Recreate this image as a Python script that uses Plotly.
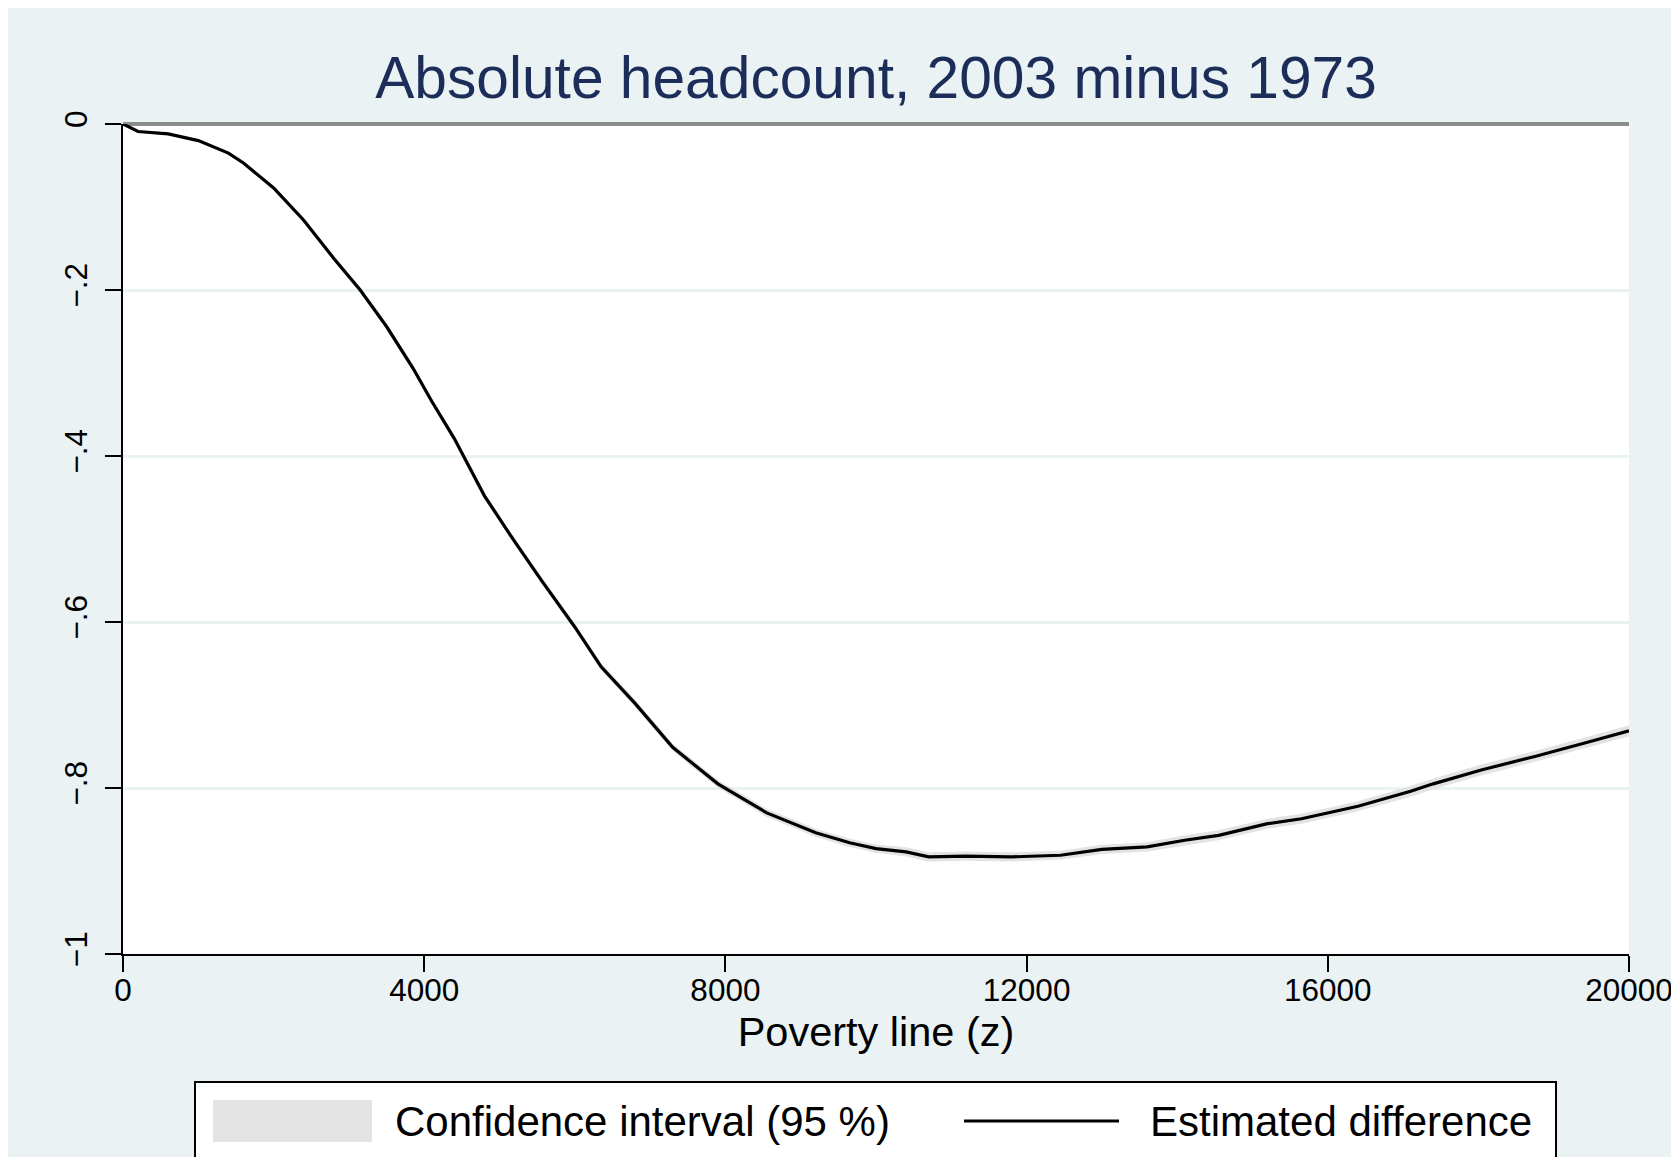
import plotly.graph_objects as go

# poverty line values (x) and estimated difference in headcount
poverty_line = [0, 200, 600, 1000, 1400, 1600, 2000, 2400, 2800, 3150, 3500, 3850, 4100, 4400,
                4800, 5200, 5550, 6000, 6350, 6800, 7300, 7900, 8550, 9200, 9650, 10000, 10400,
                10700, 11200, 11800, 12450, 13000, 13600, 14100, 14550, 15200, 15650, 16400,
                17100, 17400, 18050, 18750, 19400, 20000]
est_diff = [0, -0.009, -0.012, -0.020, -0.035, -0.047, -0.077, -0.116, -0.162, -0.200, -0.244,
            -0.294, -0.334, -0.379, -0.448, -0.503, -0.549, -0.606, -0.654, -0.698, -0.751,
            -0.795, -0.830, -0.854, -0.866, -0.873, -0.877, -0.883, -0.882, -0.883, -0.881,
            -0.874, -0.871, -0.863, -0.857, -0.843, -0.837, -0.822, -0.804, -0.795, -0.778,
            -0.762, -0.746, -0.731]
ci_low = [0, -0.010, -0.0135, -0.0215, -0.037, -0.049, -0.0795, -0.119, -0.165, -0.2035,
          -0.2475, -0.298, -0.338, -0.383, -0.452, -0.507, -0.553, -0.610, -0.6585, -0.7025,
          -0.7555, -0.7995, -0.835, -0.859, -0.871, -0.878, -0.8825, -0.8885, -0.8875, -0.8885,
          -0.8865, -0.8795, -0.8765, -0.869, -0.863, -0.849, -0.843, -0.828, -0.8105, -0.8015,
          -0.7845, -0.7685, -0.7525, -0.7375]
ci_high = [0, -0.008, -0.0105, -0.0185, -0.033, -0.045, -0.0745, -0.113, -0.159, -0.1965,
           -0.2405, -0.290, -0.330, -0.375, -0.444, -0.499, -0.545, -0.602, -0.6495, -0.6935,
           -0.7465, -0.7905, -0.825, -0.849, -0.861, -0.868, -0.8715, -0.8775, -0.8765, -0.8775,
           -0.8755, -0.8685, -0.8655, -0.857, -0.851, -0.837, -0.831, -0.816, -0.7975, -0.7885,
           -0.7715, -0.7555, -0.7395, -0.7245]

x_ticks = [0, 4000, 8000, 12000, 16000, 20000]
x_ticklabels = ["0", "4000", "8000", "12000", "16000", "20000"]
y_ticks = [0, -0.2, -0.4, -0.6, -0.8, -1]
y_ticklabels = ["0", "\u2212.2", "\u2212.4", "\u2212.6", "\u2212.8", "\u22121"]

FONT = "Liberation Sans, Arial, sans-serif"
BG = "#eaf2f3"
CI_GRAY = "#e3e3e3"

fig = go.Figure()

# confidence band
fig.add_trace(go.Scatter(x=poverty_line, y=ci_high, mode="lines", line=dict(width=0),
                         showlegend=False, hoverinfo="skip"))
fig.add_trace(go.Scatter(x=poverty_line, y=ci_low, mode="lines", line=dict(width=0),
                         fill="tonexty", fillcolor=CI_GRAY,
                         name="Confidence interval (95 %)", showlegend=False))
# estimate
fig.add_trace(go.Scatter(x=poverty_line, y=est_diff, mode="lines",
                         line=dict(color="black", width=3.2),
                         name="Estimated difference", showlegend=False))

# plot area spans x 115..1621 px, y 116..946 px of the figure
W, H = 1679, 1157
L, R, T, B = 115, 58, 116, 211
pw, ph = W - L - R, H - T - B


def px(v):
    return (v - L) / pw


def py(v):
    return (H - B - v) / ph


# hand-built legend (big swatches, box runs off the bottom edge as in the original)
shapes = [
    dict(type="rect", xref="paper", yref="paper", x0=px(187), x1=px(1548), y0=py(1250), y1=py(1074),
         fillcolor="white", line=dict(color="black", width=2)),
    dict(type="rect", xref="paper", yref="paper", x0=px(205), x1=px(364), y0=py(1134), y1=py(1092),
         fillcolor=CI_GRAY, line=dict(width=0)),
    dict(type="line", xref="paper", yref="paper", x0=px(956), x1=px(1111), y0=py(1113), y1=py(1113),
         line=dict(color="black", width=3.2)),
]

annotations = [
    dict(text="Confidence interval (95 %)", xref="paper", yref="paper", x=px(385), y=py(1113),
         xanchor="left", yanchor="middle", showarrow=False,
         font=dict(family=FONT, size=42, color="black")),
    dict(text="Estimated difference", xref="paper", yref="paper", x=px(1140), y=py(1113),
         xanchor="left", yanchor="middle", showarrow=False,
         font=dict(family=FONT, size=42, color="black")),
]

fig.update_layout(
    width=W, height=H,
    margin=dict(l=L, r=R, t=T, b=B, autoexpand=False),
    paper_bgcolor=BG, plot_bgcolor="white",
    font=dict(family=FONT, color="black"),
    title=dict(text="Absolute headcount, 2003 minus 1973", x=0.5, xref="paper", xanchor="center",
               y=1 - 69 / H, yref="container", yanchor="middle",
               font=dict(family=FONT, size=58.7, color="#1c2d5a")),
    shapes=shapes,
    annotations=annotations,
    showlegend=False,
)

fig.update_xaxes(
    range=[0, 20000], tickmode="array", tickvals=x_ticks, ticktext=x_ticklabels,
    ticks="outside", ticklen=16, tickwidth=2, tickcolor="black", ticklabelstandoff=-9,
    showline=True, linecolor="black", linewidth=2, showgrid=False, zeroline=False,
    tickfont=dict(size=31.5, color="black"),
    title=dict(text="Poverty line (z)", font=dict(size=41.5, color="black"), standoff=9),
)
fig.update_yaxes(
    range=[-1, 0], tickmode="array", tickvals=y_ticks, ticktext=y_ticklabels, tickangle=-90,
    ticks="outside", ticklen=16, tickwidth=2, tickcolor="black", ticklabelstandoff=5,
    showline=True, linecolor="black", linewidth=2,
    showgrid=True, gridcolor=BG, gridwidth=3,
    zeroline=True, zerolinecolor="#8c8c8c", zerolinewidth=3.5,
    tickfont=dict(size=31.5, color="black"),
)

fig.write_html("out.html")
